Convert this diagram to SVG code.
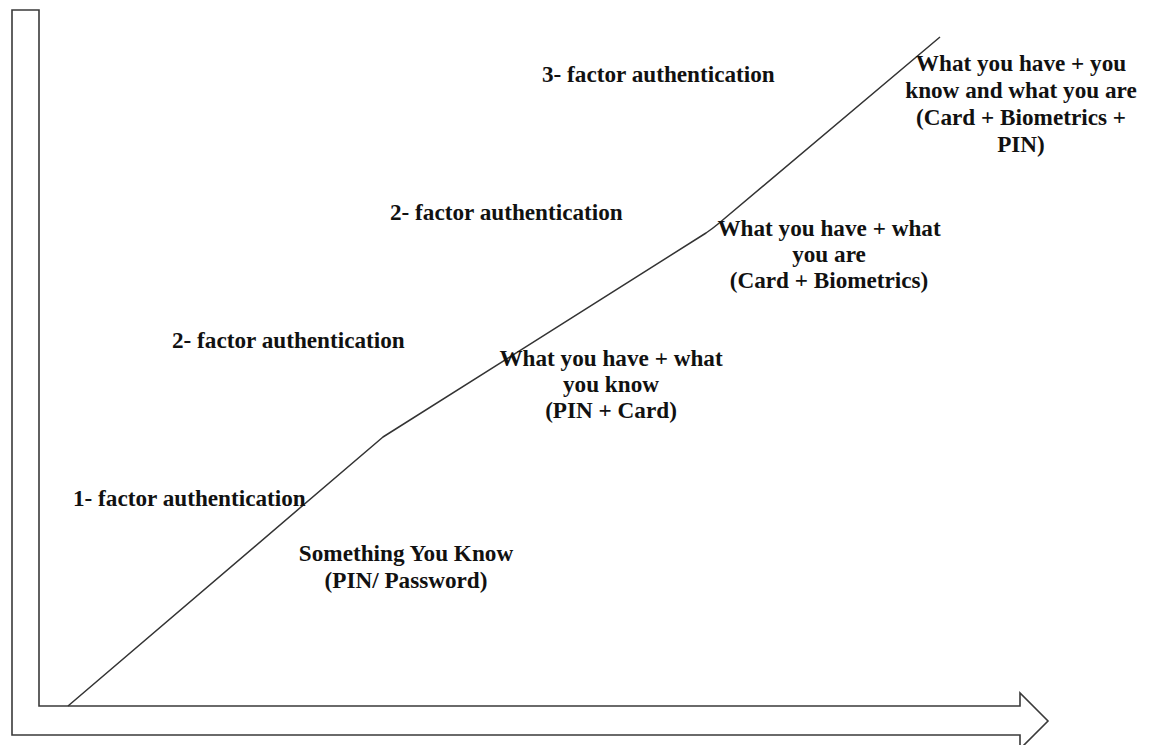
<svg xmlns="http://www.w3.org/2000/svg" width="1151" height="745" viewBox="0 0 1151 745">
  <style>
    .lbl { font-family: "Liberation Serif", "Times New Roman", serif; font-weight: bold; font-size: 23.2px; fill: #111; }
    .mid { text-anchor: middle; }
    .axis { fill: none; stroke: #3a3a3a; stroke-width: 1.6; stroke-linejoin: miter; }
    .curve { fill: none; stroke: #333; stroke-width: 1.5; stroke-linejoin: round; }
  </style>
  <rect width="1151" height="745" fill="#fff"/>

  <!-- L-shaped block arrow forming the axes -->
  <g id="axes">
    <path class="axis" d="M12,10 H39 V706 H1020 V693 L1048,721 L1020,749 V735 H12 Z"/>
  </g>

  <!-- rising security curve -->
  <g id="connectors">
    <path class="curve" d="M68,706 L383,437 L706,233 Q712,229 718,224 L940,37"/>
  </g>

  <g id="tier-3">
    <text class="lbl" x="542" y="82">3- factor authentication</text>
  </g>
  <g id="tier-2b">
    <text class="lbl" x="390" y="220">2- factor authentication</text>
  </g>
  <g id="tier-2a">
    <text class="lbl" x="172" y="348">2- factor authentication</text>
  </g>
  <g id="tier-1">
    <text class="lbl" x="73" y="506">1- factor authentication</text>
  </g>

  <g id="know">
    <text class="lbl mid" x="406" y="561">Something You Know</text>
    <text class="lbl mid" x="406" y="588">(PIN/ Password)</text>
  </g>
  <g id="have-know">
    <text class="lbl mid" x="611" y="366">What you have + what</text>
    <text class="lbl mid" x="611" y="392">you know</text>
    <text class="lbl mid" x="611" y="418">(PIN + Card)</text>
  </g>
  <g id="have-are">
    <text class="lbl mid" x="829" y="236">What you have + what</text>
    <text class="lbl mid" x="829" y="262">you are</text>
    <text class="lbl mid" x="829" y="288">(Card + Biometrics)</text>
  </g>
  <g id="have-know-are">
    <text class="lbl mid" x="1021" y="71">What you have + you</text>
    <text class="lbl mid" x="1021" y="98">know and what you are</text>
    <text class="lbl mid" x="1021" y="125">(Card + Biometrics +</text>
    <text class="lbl mid" x="1021" y="152">PIN)</text>
  </g>
</svg>
